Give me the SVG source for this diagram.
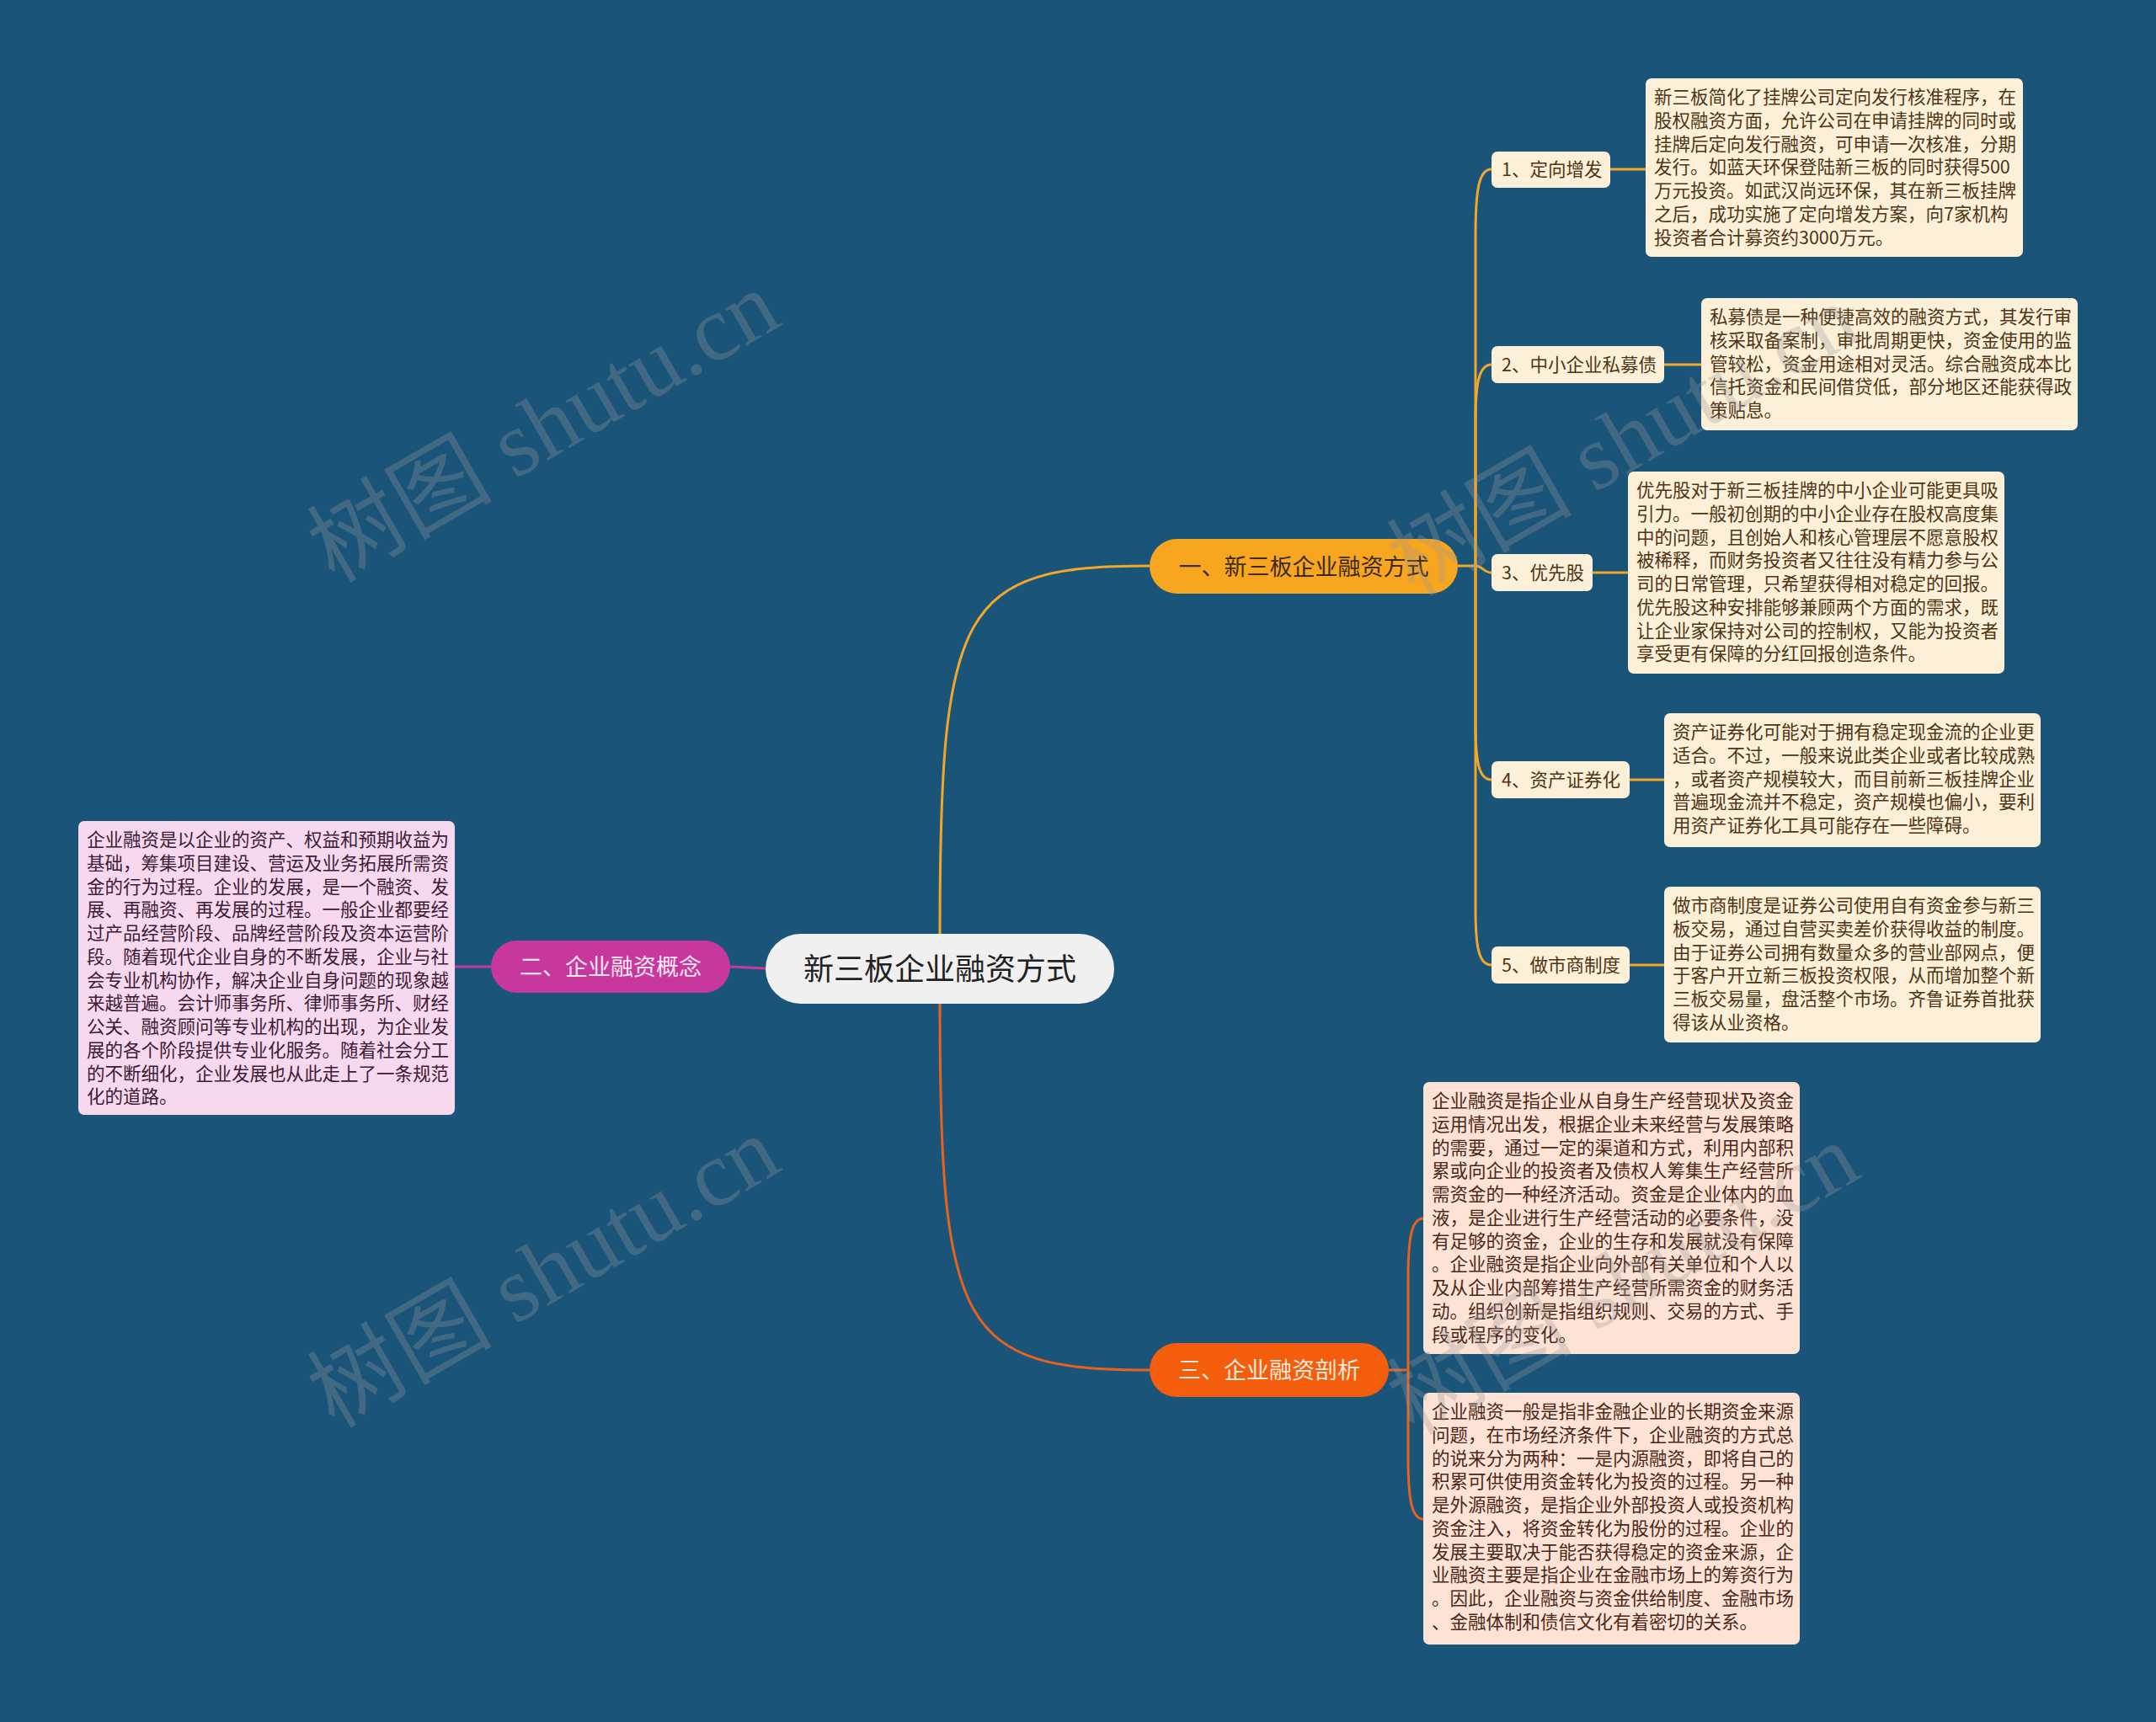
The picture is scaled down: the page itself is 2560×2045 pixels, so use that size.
<svg xmlns="http://www.w3.org/2000/svg" width="2560" height="2045" viewBox="0 0 2560 2045">
<style>
.t{font-family:"Noto Sans CJK SC","Noto Sans",sans-serif;font-size:21.5px}
.tb{fill:#fdf0d8}
.tt{fill:#4e3515}
.pk{fill:#f6d9ee}
.pt{fill:#3f1a36}
.pc{fill:#fde2d6}
.pct{fill:#4c2818}
.c1{fill:none;stroke:#f2a72a;stroke-width:3}
.c2{fill:none;stroke:#c43c9c;stroke-width:3}
.c3{fill:none;stroke:#e8621e;stroke-width:3}
.wm{font-family:"Liberation Serif","Noto Sans CJK SC",serif;font-size:110px;fill:#9a9a9a;opacity:0.3}
</style>
<rect x="0" y="0" width="2560" height="2045" fill="#1a5479"/>
<g id="connectors">
<path class="c1" d="M1116 1109 C1116 720 1140 672 1365 672"/>
<path class="c1" d="M1731 672 L1752 672"/>
<path class="c1" d="M1752 672 L1752 280 C1752 225 1756 201 1771 201"/>
<path class="c1" d="M1752 672 L1752 500 C1752 455 1756 433 1771 433"/>
<path class="c1" d="M1752 672 C1760 672 1762 680 1771 680"/>
<path class="c1" d="M1752 672 L1752 860 C1752 905 1756 926 1771 926"/>
<path class="c1" d="M1752 672 L1752 1080 C1752 1125 1756 1146 1771 1146"/>
<path class="c1" d="M1912 201 L1954 201"/>
<path class="c1" d="M1976 433 L2020 433"/>
<path class="c1" d="M1891 680 L1933 680"/>
<path class="c1" d="M1935 926 L1976 926"/>
<path class="c1" d="M1935 1146 L1976 1146"/>
<path class="c2" d="M909 1150 L867 1148"/>
<path class="c2" d="M583 1148 L540 1148"/>
<path class="c3" d="M1116 1192 C1116 1580 1140 1627 1365 1627"/>
<path class="c3" d="M1649 1627 L1672 1627"/>
<path class="c3" d="M1672 1627 L1672 1520 C1672 1470 1676 1447 1690 1447"/>
<path class="c3" d="M1672 1627 L1672 1730 C1672 1780 1676 1804 1690 1804"/>
</g>
<g id="root">
<rect x="909" y="1109" width="414" height="83" rx="41.5" fill="#f0f0f0"/>
<text x="1116" y="1164" text-anchor="middle" font-family="Noto Sans CJK SC,sans-serif" font-size="36" fill="#222">新三板企业融资方式</text>
</g>
<g id="b1">
<rect x="1365" y="640" width="366" height="65" rx="32.5" fill="#f8a51f"/>
<text x="1548" y="683" text-anchor="middle" font-family="Noto Sans CJK SC,sans-serif" font-size="27" fill="#3b2a14">一、新三板企业融资方式</text>
</g>
<g id="b2">
<rect x="583" y="1117" width="284" height="62" rx="31" fill="#c8379b"/>
<text x="725" y="1158" text-anchor="middle" font-family="Noto Sans CJK SC,sans-serif" font-size="27" fill="#fde8f5">二、企业融资概念</text>
</g>
<g id="b3">
<rect x="1365" y="1595" width="284" height="64" rx="32" fill="#f45d0c"/>
<text x="1507" y="1637" text-anchor="middle" font-family="Noto Sans CJK SC,sans-serif" font-size="27" fill="#fde9dc">三、企业融资剖析</text>
</g>
<g id="s1"><rect class="tb" x="1771" y="180" width="141" height="43" rx="7"/><text class="t tt" x="1783" y="209">1、定向增发</text></g>
<g id="s2"><rect class="tb" x="1771" y="411" width="205" height="44" rx="7"/><text class="t tt" x="1783" y="441">2、中小企业私募债</text></g>
<g id="s3"><rect class="tb" x="1771" y="658" width="120" height="44" rx="7"/><text class="t tt" x="1783" y="688">3、优先股</text></g>
<g id="s4"><rect class="tb" x="1771" y="904" width="164" height="44" rx="7"/><text class="t tt" x="1783" y="934">4、资产证券化</text></g>
<g id="s5"><rect class="tb" x="1771" y="1124" width="164" height="44" rx="7"/><text class="t tt" x="1783" y="1154">5、做市商制度</text></g>
<g id="n1"><rect class="tb" x="1954" y="93" width="448" height="212" rx="7"/>
<text class="t tt" y="123"><tspan x="1964">新三板简化了挂牌公司定向发行核准程序，在</tspan><tspan x="1964" dy="27.76">股权融资方面，允许公司在申请挂牌的同时或</tspan><tspan x="1964" dy="27.76">挂牌后定向发行融资，可申请一次核准，分期</tspan><tspan x="1964" dy="27.76">发行。如蓝天环保登陆新三板的同时获得500</tspan><tspan x="1964" dy="27.76">万元投资。如武汉尚远环保，其在新三板挂牌</tspan><tspan x="1964" dy="27.76">之后，成功实施了定向增发方案，向7家机构</tspan><tspan x="1964" dy="27.76">投资者合计募资约3000万元。</tspan></text></g>
<g id="n2"><rect class="tb" x="2020" y="354" width="447" height="157" rx="7"/>
<text class="t tt" y="384"><tspan x="2030">私募债是一种便捷高效的融资方式，其发行审</tspan><tspan x="2030" dy="27.76">核采取备案制，审批周期更快，资金使用的监</tspan><tspan x="2030" dy="27.76">管较松，资金用途相对灵活。综合融资成本比</tspan><tspan x="2030" dy="27.76">信托资金和民间借贷低，部分地区还能获得政</tspan><tspan x="2030" dy="27.76">策贴息。</tspan></text></g>
<g id="n3"><rect class="tb" x="1933" y="560" width="447" height="240" rx="7"/>
<text class="t tt" y="590"><tspan x="1943">优先股对于新三板挂牌的中小企业可能更具吸</tspan><tspan x="1943" dy="27.76">引力。一般初创期的中小企业存在股权高度集</tspan><tspan x="1943" dy="27.76">中的问题，且创始人和核心管理层不愿意股权</tspan><tspan x="1943" dy="27.76">被稀释，而财务投资者又往往没有精力参与公</tspan><tspan x="1943" dy="27.76">司的日常管理，只希望获得相对稳定的回报。</tspan><tspan x="1943" dy="27.76">优先股这种安排能够兼顾两个方面的需求，既</tspan><tspan x="1943" dy="27.76">让企业家保持对公司的控制权，又能为投资者</tspan><tspan x="1943" dy="27.76">享受更有保障的分红回报创造条件。</tspan></text></g>
<g id="n4"><rect class="tb" x="1976" y="847" width="447" height="159" rx="7"/>
<text class="t tt" y="877"><tspan x="1986">资产证券化可能对于拥有稳定现金流的企业更</tspan><tspan x="1986" dy="27.76">适合。不过，一般来说此类企业或者比较成熟</tspan><tspan x="1986" dy="27.76">，或者资产规模较大，而目前新三板挂牌企业</tspan><tspan x="1986" dy="27.76">普遍现金流并不稳定，资产规模也偏小，要利</tspan><tspan x="1986" dy="27.76">用资产证券化工具可能存在一些障碍。</tspan></text></g>
<g id="n5"><rect class="tb" x="1976" y="1053" width="447" height="185" rx="7"/>
<text class="t tt" y="1083"><tspan x="1986">做市商制度是证券公司使用自有资金参与新三</tspan><tspan x="1986" dy="27.76">板交易，通过自营买卖差价获得收益的制度。</tspan><tspan x="1986" dy="27.76">由于证券公司拥有数量众多的营业部网点，便</tspan><tspan x="1986" dy="27.76">于客户开立新三板投资权限，从而增加整个新</tspan><tspan x="1986" dy="27.76">三板交易量，盘活整个市场。齐鲁证券首批获</tspan><tspan x="1986" dy="27.76">得该从业资格。</tspan></text></g>
<g id="n6"><rect class="pk" x="93" y="975" width="447" height="349" rx="7"/>
<text class="t pt" y="1005"><tspan x="103">企业融资是以企业的资产、权益和预期收益为</tspan><tspan x="103" dy="27.76">基础，筹集项目建设、营运及业务拓展所需资</tspan><tspan x="103" dy="27.76">金的行为过程。企业的发展，是一个融资、发</tspan><tspan x="103" dy="27.76">展、再融资、再发展的过程。一般企业都要经</tspan><tspan x="103" dy="27.76">过产品经营阶段、品牌经营阶段及资本运营阶</tspan><tspan x="103" dy="27.76">段。随着现代企业自身的不断发展，企业与社</tspan><tspan x="103" dy="27.76">会专业机构协作，解决企业自身问题的现象越</tspan><tspan x="103" dy="27.76">来越普遍。会计师事务所、律师事务所、财经</tspan><tspan x="103" dy="27.76">公关、融资顾问等专业机构的出现，为企业发</tspan><tspan x="103" dy="27.76">展的各个阶段提供专业化服务。随着社会分工</tspan><tspan x="103" dy="27.76">的不断细化，企业发展也从此走上了一条规范</tspan><tspan x="103" dy="27.76">化的道路。</tspan></text></g>
<g id="n7"><rect class="pc" x="1690" y="1285" width="447" height="323" rx="7"/>
<text class="t pct" y="1315"><tspan x="1700">企业融资是指企业从自身生产经营现状及资金</tspan><tspan x="1700" dy="27.76">运用情况出发，根据企业未来经营与发展策略</tspan><tspan x="1700" dy="27.76">的需要，通过一定的渠道和方式，利用内部积</tspan><tspan x="1700" dy="27.76">累或向企业的投资者及债权人筹集生产经营所</tspan><tspan x="1700" dy="27.76">需资金的一种经济活动。资金是企业体内的血</tspan><tspan x="1700" dy="27.76">液，是企业进行生产经营活动的必要条件，没</tspan><tspan x="1700" dy="27.76">有足够的资金，企业的生存和发展就没有保障</tspan><tspan x="1700" dy="27.76">。企业融资是指企业向外部有关单位和个人以</tspan><tspan x="1700" dy="27.76">及从企业内部筹措生产经营所需资金的财务活</tspan><tspan x="1700" dy="27.76">动。组织创新是指组织规则、交易的方式、手</tspan><tspan x="1700" dy="27.76">段或程序的变化。</tspan></text></g>
<g id="n8"><rect class="pc" x="1690" y="1654" width="447" height="299" rx="7"/>
<text class="t pct" y="1684"><tspan x="1700">企业融资一般是指非金融企业的长期资金来源</tspan><tspan x="1700" dy="27.76">问题，在市场经济条件下，企业融资的方式总</tspan><tspan x="1700" dy="27.76">的说来分为两种：一是内源融资，即将自己的</tspan><tspan x="1700" dy="27.76">积累可供使用资金转化为投资的过程。另一种</tspan><tspan x="1700" dy="27.76">是外源融资，是指企业外部投资人或投资机构</tspan><tspan x="1700" dy="27.76">资金注入，将资金转化为股份的过程。企业的</tspan><tspan x="1700" dy="27.76">发展主要取决于能否获得稳定的资金来源，企</tspan><tspan x="1700" dy="27.76">业融资主要是指企业在金融市场上的筹资行为</tspan><tspan x="1700" dy="27.76">。因此，企业融资与资金供给制度、金融市场</tspan><tspan x="1700" dy="27.76">、金融体制和债信文化有着密切的关系。</tspan></text></g>
<g id="watermarks">
<text class="wm" x="645" y="544" text-anchor="middle" transform="rotate(-30 645 506)">树图 shutu.cn</text>
<text class="wm" x="1927" y="560" text-anchor="middle" transform="rotate(-30 1927 522)">树图 shutu.cn</text>
<text class="wm" x="645" y="1548" text-anchor="middle" transform="rotate(-30 645 1510)">树图 shutu.cn</text>
<text class="wm" x="1927" y="1556" text-anchor="middle" transform="rotate(-30 1927 1518)">树图 shutu.cn</text>
</g>
</svg>
